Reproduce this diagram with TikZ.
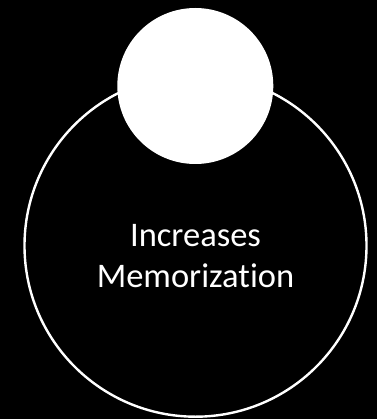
\documentclass[tikz,border=0pt]{standalone}
\usepackage{fontspec}
\setmainfont{Carlito}[Ligatures={NoCommon}]
\usepackage{xcolor}
\usetikzlibrary{positioning}
\definecolor{bgblack}{HTML}{000000}
\definecolor{ringwhite}{HTML}{FFFFFF}
\tikzset{
  ring/.style={
    circle, draw=ringwhite, line width=2.4pt, fill=none,
    minimum size=#1, inner sep=0pt,
  },
  disc/.style={
    circle, fill=ringwhite, draw=none,
    minimum size=#1, inner sep=0pt,
  },
  lbl/.style={text=ringwhite, align=center,
    font=\fontsize{34.5}{40.6}\selectfont},
}
\begin{document}
\begin{tikzpicture}[x=1pt, y=-1pt]

  % background and bounding box
  \fill[bgblack] (0,0) rectangle (377,419);
  \useasboundingbox (0,0) rectangle (377,419);

  \node[ring=342pt] (outer) at (195.5,245.7) {};
  \node[disc=156pt] (top) at (195.3,86) {};

  \node[lbl] (txt) at (195.5,256) {Increases\\Memorization};

\end{tikzpicture}
\end{document}
